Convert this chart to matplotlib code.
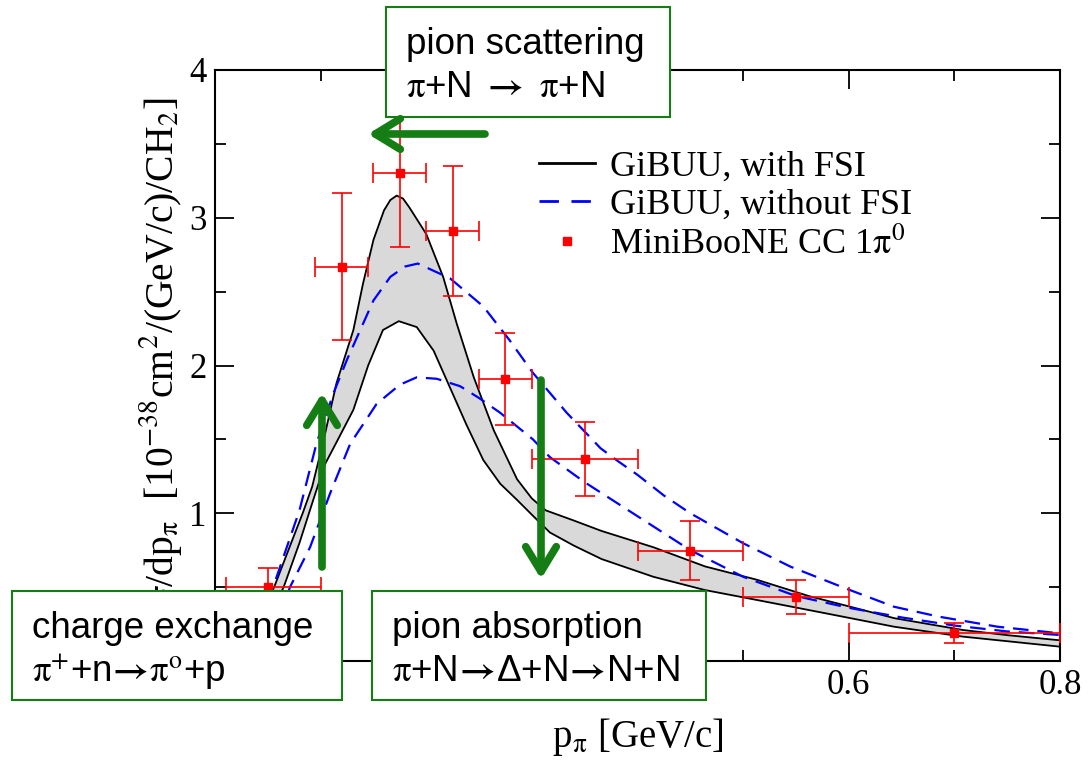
import numpy as np
import matplotlib.pyplot as plt
from matplotlib.lines import Line2D
from matplotlib.patches import Rectangle, FancyArrowPatch, ArrowStyle
from matplotlib.ticker import MultipleLocator

plt.rcParams['font.family'] = 'serif'
plt.rcParams['font.serif'] = ['Liberation Serif', 'DejaVu Serif']
plt.rcParams['mathtext.fontset'] = 'stix'

# GiBUU with FSI: upper edge of the band
fsi_hi_p = [0.020, 0.035, 0.045, 0.056, 0.070, 0.083, 0.092, 0.103, 0.115, 0.131,
            0.140, 0.150, 0.160, 0.166, 0.172, 0.178, 0.184, 0.200, 0.216, 0.229,
            0.245, 0.264, 0.286, 0.300, 0.313, 0.340, 0.366, 0.415, 0.464, 0.513,
            0.562, 0.600, 0.643, 0.708, 0.750, 0.800]
fsi_hi_xs = [0.00, 0.18, 0.33, 0.50, 0.76, 1.00, 1.18, 1.50, 1.88, 2.24,
             2.55, 2.85, 3.05, 3.12, 3.15, 3.13, 3.07, 2.89, 2.60, 2.28,
             1.92, 1.56, 1.23, 1.10, 1.02, 0.95, 0.88, 0.77, 0.64, 0.55,
             0.44, 0.37, 0.29, 0.21, 0.175, 0.14]

# GiBUU with FSI: lower edge of the band
fsi_lo_p = [0.030, 0.050, 0.065, 0.080, 0.093, 0.104, 0.115, 0.131, 0.145, 0.159,
            0.174, 0.191, 0.207, 0.2225, 0.238, 0.254, 0.270, 0.286, 0.300, 0.317,
            0.340, 0.366, 0.415, 0.464, 0.513, 0.578, 0.643, 0.708, 0.800]
fsi_lo_xs = [0.00, 0.28, 0.50, 0.80, 1.09, 1.33, 1.48, 1.70, 2.00, 2.24,
             2.30, 2.26, 2.10, 1.85, 1.60, 1.36, 1.20, 1.09, 0.99, 0.87,
             0.78, 0.69, 0.57, 0.48, 0.413, 0.323, 0.232, 0.165, 0.097]

# GiBUU without FSI: upper and lower curves
nofsi_hi_p = [0.030, 0.045, 0.055, 0.080, 0.096, 0.112, 0.125, 0.150, 0.166, 0.180,
              0.192, 0.2225, 0.254, 0.279, 0.301, 0.333, 0.365, 0.382, 0.400, 0.425,
              0.450, 0.500, 0.545, 0.5975, 0.643, 0.6854, 0.741, 0.800]
nofsi_hi_xs = [0.10, 0.32, 0.50, 1.02, 1.47, 1.81, 2.04, 2.44, 2.60, 2.67,
               2.69, 2.59, 2.40, 2.17, 1.95, 1.68, 1.44, 1.35, 1.26, 1.12,
               1.00, 0.797, 0.638, 0.49, 0.367, 0.30, 0.232, 0.187]

nofsi_lo_p = [0.040, 0.060, 0.071, 0.090, 0.109, 0.128, 0.153, 0.175, 0.191, 0.210,
              0.232, 0.250, 0.270, 0.301, 0.317, 0.350, 0.400, 0.450, 0.500, 0.550,
              0.600, 0.650, 0.700, 0.750, 0.800]
nofsi_lo_xs = [0.00, 0.28, 0.50, 0.77, 1.135, 1.47, 1.74, 1.87, 1.92, 1.91,
               1.86, 1.78, 1.68, 1.50, 1.38, 1.21, 0.98, 0.75, 0.57, 0.44,
               0.36, 0.295, 0.24, 0.20, 0.176]

# MiniBooNE CC 1pi0 data
data_p = [0.05, 0.12, 0.175, 0.225, 0.275, 0.35, 0.45, 0.55, 0.70]
data_xs = [0.50, 2.67, 3.30, 2.91, 1.91, 1.37, 0.745, 0.43, 0.19]
data_dxs = [0.13, 0.50, 0.50, 0.44, 0.31, 0.25, 0.20, 0.115, 0.07]
data_dp_lo = [0.04, 0.025, 0.025, 0.025, 0.025, 0.05, 0.05, 0.05, 0.10]
data_dp_hi = [0.05, 0.025, 0.025, 0.025, 0.025, 0.05, 0.05, 0.05, 0.10]

xticks = [0, 0.2, 0.4, 0.6, 0.8]
xtick_labels = ['0', '0.2', '0.4', '0.6', '0.8']
yticks = [0, 1, 2, 3, 4]
ytick_labels = ['0', '1', '2', '3', '4']

legend_labels = ['GiBUU, with FSI', 'GiBUU, without FSI',
                 r'MiniBooNE CC 1$\mathrm{\pi}^{0}$']

ARR = r'$\mathbf{\rightarrow}$'
ARR_TIGHT = r'$\!\mathbf{\rightarrow}\!$'
box_scatter = ['pion scattering', r'$\mathrm{\pi}$+N ' + ARR + r' $\mathrm{\pi}$+N']
box_cex = ['charge exchange',
           r'$\mathrm{\pi}^{+}$+n' + ARR_TIGHT + r'$\mathrm{\pi}^{\mathrm{o}}$+p']
box_abs = ['pion absorption',
           r'$\mathrm{\pi}$+N' + ARR_TIGHT + 'Δ+N' + ARR_TIGHT + 'N+N']

W, H = 1090, 767
GREEN = '#147d14'
SANS = ['Liberation Sans', 'DejaVu Sans']


def fx(px):
    return px / W


def fy(py):
    return 1 - py / H


fig = plt.figure(figsize=(W / 100, H / 100), dpi=100)
ax = fig.add_axes([fx(215), fy(661), fx(1060) - fx(215), fy(70) - fy(661)])

# Band between the FSI curves
ax.fill(np.concatenate([fsi_hi_p, fsi_lo_p[::-1]]),
        np.concatenate([fsi_hi_xs, fsi_lo_xs[::-1]]),
        color='#d9d9d9', lw=0, zorder=1)
ax.plot(fsi_hi_p, fsi_hi_xs, color='black', lw=1.3, zorder=2)
ax.plot(fsi_lo_p, fsi_lo_xs, color='black', lw=1.3, zorder=2)

ax.plot(nofsi_hi_p, nofsi_hi_xs, color='#0000ff', lw=1.6, dashes=(7, 4), zorder=3)
ax.plot(nofsi_lo_p, nofsi_lo_xs, color='#0000ff', lw=1.6, dashes=(7, 4), zorder=3)

ax.errorbar(data_p, data_xs, yerr=data_dxs, xerr=[data_dp_lo, data_dp_hi],
            fmt='s', color='#ff0000', ms=6, elinewidth=1.2, capsize=7,
            capthick=1.2, zorder=4, clip_on=False)

ax.set_xlim(0, 0.8)
ax.set_ylim(0, 4)
ax.set_xticks(xticks)
ax.set_xticklabels(xtick_labels)
ax.set_yticks(yticks)
ax.set_yticklabels(ytick_labels)
ax.xaxis.set_minor_locator(MultipleLocator(0.1))
ax.yaxis.set_minor_locator(MultipleLocator(0.5))
ax.tick_params(which='both', direction='in', top=True, right=True,
               width=1.3, labelsize=25)
ax.tick_params(which='major', length=14, pad=6)
ax.tick_params(which='minor', length=8)
for s in ax.spines.values():
    s.set_linewidth(1.5)

ax.set_xlabel(r'p$_{\mathrm{\pi}}$ [GeV/c]', fontsize=28)
ax.xaxis.set_label_coords(0.5, -0.093)
ax.set_ylabel(r'd$\sigma$/dp$_{\mathrm{\pi}}$  [10$^{-38}$cm$^{2}$/(GeV/c)/CH$_{2}$]',
              fontsize=28.5)
ax.yaxis.set_label_coords(-0.037, 0.506)

handles = [Line2D([], [], color='black', lw=2),
           Line2D([], [], color='#0000ff', lw=2, dashes=(7, 4.5)),
           Line2D([], [], color='#ff0000', marker='s', ms=6, ls='none')]
ax.legend(handles, legend_labels, loc='upper left', frameon=False,
          bbox_to_anchor=(fx(539), fy(150)), bbox_transform=fig.transFigure,
          fontsize=26, borderpad=0, borderaxespad=0, handlelength=1.55,
          handletextpad=0.42, labelspacing=0.15)

# Annotation boxes
for (x0, y0, x1, y1), lines in [((386, 7, 670, 117), box_scatter),
                                ((12, 591, 342, 700), box_cex),
                                ((372, 591, 706, 700), box_abs)]:
    fig.add_artist(Rectangle((fx(x0), fy(y1)), fx(x1) - fx(x0), fy(y0) - fy(y1),
                             transform=fig.transFigure, facecolor='white',
                             edgecolor=GREEN, lw=1.5, zorder=10))
    for i, line in enumerate(lines):
        fig.text(fx(x0 + 20), fy(y0 + 47 + 43 * i), line, fontsize=26.5,
                 family=SANS, va='baseline', ha='left', zorder=11)

# Green arrows
style = ArrowStyle('->', head_length=18, head_width=11)
for (xa, ya), (xb, yb) in [((485, 134), (368, 134)),
                           ((322, 567), (322, 393)),
                           ((541, 380), (541, 579))]:
    fig.add_artist(FancyArrowPatch((fx(xa), fy(ya)), (fx(xb), fy(yb)),
                                   transform=fig.transFigure, arrowstyle=style,
                                   mutation_scale=1, lw=5.5, color=GREEN,
                                   shrinkA=0, shrinkB=0, zorder=12))

fig.savefig('out.png', dpi=100)
